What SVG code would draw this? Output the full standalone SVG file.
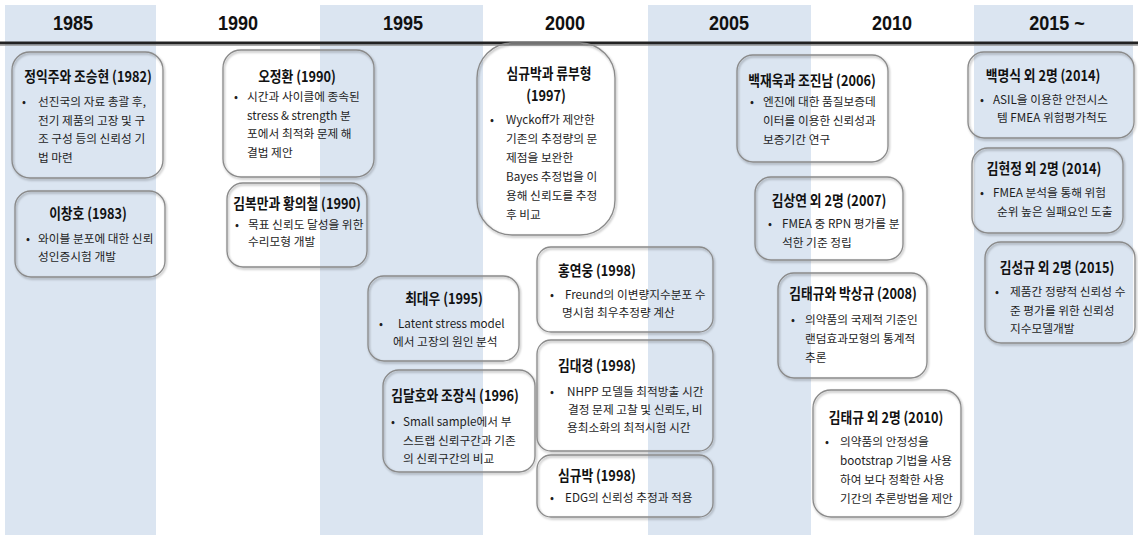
<svg xmlns="http://www.w3.org/2000/svg" width="1138" height="535" viewBox="0 0 1138 535">
<style>
.bg{fill:#dbe5f1}
.yr{font-family:"Liberation Sans",Arial,sans-serif;font-weight:bold;font-size:21px;fill:#111;text-anchor:middle}
.box{fill:none;stroke:#8a8a8a;stroke-width:1.3;filter:url(#sh)}
.t{font-family:"Noto Sans CJK KR","Noto Sans",sans-serif;font-weight:bold;font-size:15px;fill:#111;text-anchor:middle}
.tl{font-family:"Noto Sans CJK KR","Noto Sans",sans-serif;font-weight:bold;font-size:15px;fill:#111}
.b{font-family:"Noto Sans CJK KR","Noto Sans",sans-serif;font-size:11.7px;fill:#1e1e1e}
</style>
<defs>
<filter id="sh" x="-10%" y="-10%" width="120%" height="120%">
<feDropShadow dx="1" dy="1.5" stdDeviation="0.8" flood-color="#000" flood-opacity="0.35"/>
</filter>
</defs>
<g id="background">
<rect class="bg" x="5" y="5" width="151" height="530"/>
<rect class="bg" x="320" y="5" width="163" height="530"/>
<rect class="bg" x="648" y="5" width="163" height="530"/>
<rect class="bg" x="974" y="5" width="159" height="530"/>
<line x1="0" y1="43" x2="1138" y2="43" stroke="#222" stroke-width="2.8"/>
<line x1="0" y1="45.3" x2="1138" y2="45.3" stroke="#999" stroke-width="1"/>
</g>
<g id="years">
<text class="yr" transform="translate(73 30) scale(0.86 1)">1985</text>
<text class="yr" transform="translate(238 30) scale(0.86 1)">1990</text>
<text class="yr" transform="translate(403 30) scale(0.86 1)">1995</text>
<text class="yr" transform="translate(565 30) scale(0.86 1)">2000</text>
<text class="yr" transform="translate(729 30) scale(0.86 1)">2005</text>
<text class="yr" transform="translate(892 30) scale(0.86 1)">2010</text>
<text class="yr" transform="translate(1057 30) scale(0.86 1)">2015 ~</text>
</g>
<g id="connectors"/>
<g id="n1982">
<rect class="box" x="12" y="52" width="151" height="126" rx="18"/>
<text class="t" transform="translate(88 82) scale(0.85 1)">정익주와 조승현 (1982)</text>
<text class="b" x="22" y="106">•</text>
<text class="b" x="38" y="106">선진국의 자료 총괄 후,</text>
<text class="b" x="38" y="124.5">전기 제품의 고장 및 구</text>
<text class="b" x="38" y="143">조 구성 등의 신뢰성 기</text>
<text class="b" x="38" y="161.5">법 마련</text>
</g>
<g id="n1983">
<rect class="box" x="15" y="191" width="150" height="86" rx="16"/>
<text class="t" transform="translate(88 219) scale(0.85 1)">이창호 (1983)</text>
<text class="b" x="26" y="243">•</text>
<text class="b" x="38" y="243">와이블 분포에 대한 신뢰</text>
<text class="b" x="38" y="261">성인증시험 개발</text>
</g>
<g id="n1990a">
<rect class="box" x="223" y="50" width="151" height="127" rx="18"/>
<text class="t" transform="translate(297 82) scale(0.85 1)">오정환 (1990)</text>
<text class="b" x="234" y="101">•</text>
<text class="b" x="247" y="101">시간과 사이클에 종속된</text>
<text class="b" x="247" y="119.5">stress &amp; strength  분</text>
<text class="b" x="247" y="138">포에서 최적화 문제 해</text>
<text class="b" x="247" y="156.5">결법 제안</text>
</g>
<g id="n1990b">
<rect class="box" x="227" y="183" width="140" height="84" rx="16"/>
<text class="t" transform="translate(297 209) scale(0.85 1)">김복만과 황의철 (1990)</text>
<text class="b" x="235" y="229">•</text>
<text class="b" x="248" y="229">목표 신뢰도 달성을 위한</text>
<text class="b" x="248" y="246">수리모형 개발</text>
</g>
<g id="n1995">
<rect class="box" x="368" y="276" width="151" height="85" rx="16"/>
<text class="t" transform="translate(444 304) scale(0.85 1)">최대우 (1995)</text>
<text class="b" x="379" y="328">•</text>
<text class="b" x="398" y="328">Latent stress model</text>
<text class="b" x="393" y="346">에서 고장의 원인 분석</text>
</g>
<g id="n1996">
<rect class="box" x="383" y="370" width="152" height="102" rx="16"/>
<text class="t" transform="translate(455 401) scale(0.85 1)">김달호와 조장식 (1996)</text>
<text class="b" x="391" y="426">•</text>
<text class="b" x="403" y="426">Small sample에서 부</text>
<text class="b" x="403" y="444.5">스트랩 신뢰구간과 기존</text>
<text class="b" x="403" y="463">의 신뢰구간의 비교</text>
</g>
<g id="n1997">
<rect class="box" x="477" y="43" width="138" height="192" rx="35"/>
<text class="t" transform="translate(549 79) scale(0.85 1)">심규박과 류부형</text>
<text class="t" transform="translate(546 101) scale(0.85 1)">(1997)</text>
<text class="b" x="490" y="124">•</text>
<text class="b" x="506" y="124">Wyckoff가 제안한</text>
<text class="b" x="506" y="143">기존의 추정량의 문</text>
<text class="b" x="506" y="162">제점을 보완한</text>
<text class="b" x="506" y="181">Bayes 추정법을 이</text>
<text class="b" x="506" y="200">용해 신뢰도를 추정</text>
<text class="b" x="506" y="219">후 비교</text>
</g>
<g id="n1998a">
<rect class="box" x="537" y="247" width="176" height="85" rx="14"/>
<text class="tl" transform="translate(558 276) scale(0.85 1)">홍연웅 (1998)</text>
<text class="b" x="550" y="299">•</text>
<text class="b" x="565" y="299">Freund의 이변량지수분포 수</text>
<text class="b" x="562" y="317">명시험 최우추정량 계산</text>
</g>
<g id="n1998b">
<rect class="box" x="537" y="340" width="176" height="111" rx="14"/>
<text class="tl" transform="translate(558 371) scale(0.85 1)">김대경 (1998)</text>
<text class="b" x="550" y="396">•</text>
<text class="b" x="567" y="396">NHPP 모델들 최적방출 시간</text>
<text class="b" x="568" y="414">결정 문제 고찰 및 신뢰도, 비</text>
<text class="b" x="567" y="432">용최소화의 최적시험 시간</text>
</g>
<g id="n1998c">
<rect class="box" x="537" y="455" width="176" height="62" rx="14"/>
<text class="tl" transform="translate(558 481) scale(0.85 1)">심규박 (1998)</text>
<text class="b" x="550" y="502">•</text>
<text class="b" x="565" y="502">EDG의 신뢰성 추정과 적용</text>
</g>
<g id="n2006">
<rect class="box" x="737" y="55" width="151" height="107" rx="16"/>
<text class="t" transform="translate(812 86) scale(0.85 1)">백재욱과 조진남 (2006)</text>
<text class="b" x="750" y="106">•</text>
<text class="b" x="763" y="106">엔진에 대한 품질보증데</text>
<text class="b" x="763" y="125">이터를 이용한 신뢰성과</text>
<text class="b" x="763" y="144">보증기간 연구</text>
</g>
<g id="n2007">
<rect class="box" x="755" y="177" width="148" height="83" rx="16"/>
<text class="t" transform="translate(829 206) scale(0.85 1)">김상연 외 2명 (2007)</text>
<text class="b" x="768" y="228">•</text>
<text class="b" x="782" y="228">FMEA 중 RPN 평가를 분</text>
<text class="b" x="782" y="247">석한 기준 정립</text>
</g>
<g id="n2008">
<rect class="box" x="778" y="273" width="149" height="105" rx="16"/>
<text class="t" transform="translate(853 299) scale(0.85 1)">김태규와 박상규 (2008)</text>
<text class="b" x="791" y="324">•</text>
<text class="b" x="805" y="324">의약품의 국제적 기준인</text>
<text class="b" x="805" y="343">랜덤효과모형의 통계적</text>
<text class="b" x="805" y="362">추론</text>
</g>
<g id="n2010">
<rect class="box" x="813" y="390" width="148" height="127" rx="18"/>
<text class="t" transform="translate(886 423) scale(0.85 1)">김태규 외 2명 (2010)</text>
<text class="b" x="825" y="446">•</text>
<text class="b" x="840" y="446">의약품의 안정성을</text>
<text class="b" x="840" y="465">bootstrap 기법을 사용</text>
<text class="b" x="840" y="484">하여 보다 정확한 사용</text>
<text class="b" x="840" y="503">기간의 추론방법을 제안</text>
</g>
<g id="n2014a">
<rect class="box" x="968" y="52" width="166" height="86" rx="16"/>
<text class="t" transform="translate(1043 81) scale(0.85 1)">백명식 외 2명 (2014)</text>
<text class="b" x="980" y="104">•</text>
<text class="b" x="993" y="104">ASIL을 이용한 안전시스</text>
<text class="b" x="997" y="122">템 FMEA 위험평가척도</text>
</g>
<g id="n2014b">
<rect class="box" x="972" y="148" width="151" height="85" rx="16"/>
<text class="t" transform="translate(1044 174) scale(0.85 1)">김현정 외 2명 (2014)</text>
<text class="b" x="980" y="197">•</text>
<text class="b" x="993" y="197">FMEA 분석을 통해 위험</text>
<text class="b" x="997" y="216">순위 높은 실패요인 도출</text>
</g>
<g id="n2015">
<rect class="box" x="985" y="242" width="150" height="101" rx="16"/>
<text class="t" transform="translate(1057 273) scale(0.85 1)">김성규 외 2명 (2015)</text>
<text class="b" x="995" y="296">•</text>
<text class="b" x="1010" y="296">제품간 정량적 신뢰성 수</text>
<text class="b" x="1010" y="314.5">준 평가를 위한 신뢰성</text>
<text class="b" x="1010" y="333">지수모델개발</text>
</g>
</svg>
